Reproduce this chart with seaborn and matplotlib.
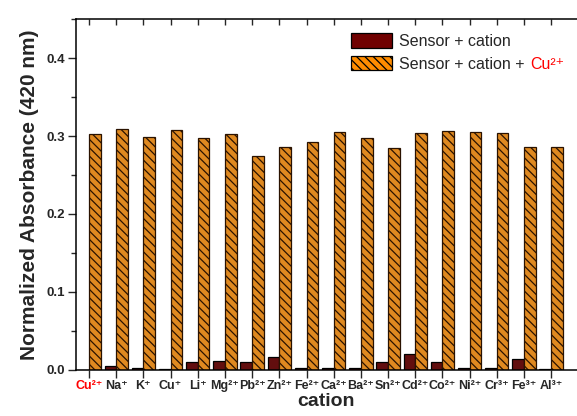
import matplotlib
matplotlib.use("Agg")
import matplotlib.pyplot as plt
import seaborn as sns
import pandas as pd
from matplotlib.ticker import MultipleLocator
from matplotlib.patches import Patch

cations = ["Cu²⁺", "Na⁺", "K⁺", "Cu⁺", "Li⁺", "Mg²⁺", "Pb²⁺", "Zn²⁺", "Fe²⁺",
           "Ca²⁺", "Ba²⁺", "Sn²⁺", "Cd²⁺", "Co²⁺", "Ni²⁺", "Cr³⁺", "Fe³⁺", "Al³⁺"]
sensor_cation = [0.000, 0.0055, 0.0026, 0.0017, 0.010, 0.012, 0.010, 0.0167, 0.003,
                 0.0026, 0.003, 0.0098, 0.020, 0.0098, 0.002, 0.002, 0.0137, 0.0013]
sensor_cation_cu = [0.302, 0.309, 0.299, 0.308, 0.298, 0.302, 0.274, 0.286, 0.292,
                    0.305, 0.297, 0.284, 0.304, 0.306, 0.305, 0.304, 0.286, 0.286]
series = ["Sensor + cation", "Sensor + cation + Cu²⁺"]

sns.set_theme(style="white")
plt.rcParams["font.family"] = ["Liberation Sans", "DejaVu Sans"]
plt.rcParams["hatch.linewidth"] = 0.9

df = pd.DataFrame({
    "cation": cations * 2,
    "value": sensor_cation + sensor_cation_cu,
    "series": [series[0]] * len(cations) + [series[1]] * len(cations),
})

fig = plt.figure(figsize=(5.77, 4.16), dpi=100)
ax = fig.add_axes([0.1317, 0.1106, 0.8683, 0.8437])

dark = "#700000"
orange = "#FF8C00"
sns.barplot(data=df, x="cation", y="value", hue="series", order=cations,
            hue_order=series, palette=[dark, orange], width=0.86,
            edgecolor="black", linewidth=0.9, ax=ax, legend=False)

n = len(cations)
for i, p in enumerate(ax.patches[:2 * n]):
    if i >= n:
        p.set_hatch("\\\\\\\\")
        p.set_edgecolor("#2a1200")

ax.set_ylim(0, 0.45)
ax.set_xlim(-0.48, 17.95)
ax.set_yticks([0.0, 0.1, 0.2, 0.3, 0.4])
ax.yaxis.set_minor_locator(MultipleLocator(0.05))
ax.set_yticklabels(["0.0", "0.1", "0.2", "0.3", "0.4"], fontweight="bold", fontsize=9.5)
ax.tick_params(axis="y", which="major", direction="out", length=6, width=1, left=True, pad=2)
ax.tick_params(axis="y", which="minor", direction="out", length=3.5, width=1, left=True)
ax.xaxis.set_ticks_position("both")
ax.tick_params(axis="x", which="major", direction="out", length=6, width=1,
               bottom=True, top=True, pad=1, labelsize=9)
for t in ax.get_xticklabels():
    t.set_fontweight("bold")
ax.get_xticklabels()[0].set_color("red")
for tk in ax.xaxis.get_major_ticks():
    tk.tick2line.set_markersize(4)
    tk.tick2line.set_marker(3)
for spine in ["left", "bottom", "top"]:
    ax.spines[spine].set_visible(True)
    ax.spines[spine].set_color("black")
    ax.spines[spine].set_linewidth(1.1)
ax.spines["right"].set_visible(False)

ax.set_xlabel("cation", fontsize=14, fontweight="bold", labelpad=1)
ax.set_ylabel("Normalized Absorbance (420 nm)", fontsize=15, fontweight="bold", labelpad=5)

handles = [Patch(facecolor=dark, edgecolor="black", linewidth=0.9),
           Patch(facecolor=orange, edgecolor="black", linewidth=0.9, hatch="\\\\\\\\")]
leg = ax.legend(handles, ["Sensor + cation", "Sensor + cation + "], loc="upper left",
                bbox_to_anchor=(0.52, 1.0), frameon=False, fontsize=11.5,
                handlelength=2.6, handleheight=1.0, handletextpad=0.4, labelspacing=0.45)

fig.canvas.draw()
txt = leg.get_texts()[1]
bb = txt.get_window_extent(renderer=fig.canvas.get_renderer())
fig.text(bb.x1 / fig.bbox.width + 0.002, bb.y0 / fig.bbox.height, "Cu²⁺", color="red",
         fontsize=11.5, ha="left", va="bottom")

fig.savefig("out.png", dpi=100)
